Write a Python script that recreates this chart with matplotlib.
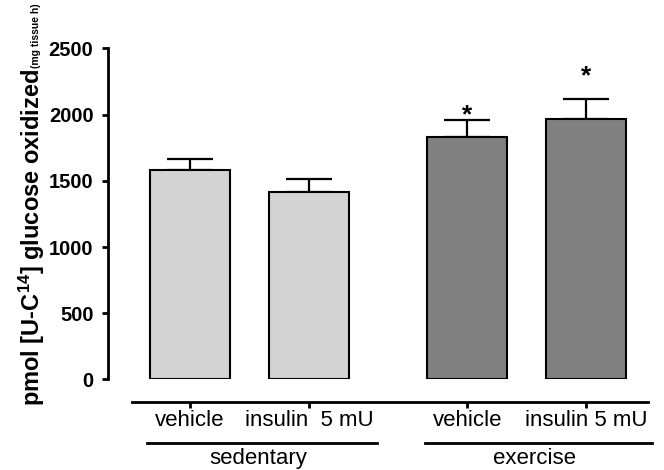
import numpy as np
import matplotlib.pyplot as plt
from matplotlib.transforms import blended_transform_factory

plt.rcParams['font.family'] = ['Liberation Sans', 'DejaVu Sans']
plt.rcParams['mathtext.fontset'] = 'custom'
plt.rcParams['mathtext.rm'] = 'Liberation Sans'
plt.rcParams['mathtext.bf'] = 'Liberation Sans:bold'
plt.rcParams['mathtext.default'] = 'bf'

# data
treatments = ['vehicle', 'insulin  5 mU', 'vehicle', 'insulin 5 mU']
groups = ['sedentary', 'exercise']
means = [1579, 1415, 1830, 1969]
sems = [88, 101, 131, 150]
significant = [False, False, True, True]

positions = np.array([0, 1, 2.33, 3.33])
colors = ['#d3d3d3', '#d3d3d3', '#808080', '#808080']
star_offsets = [0, 0, 32, 167]

fig = plt.figure(figsize=(6.64, 4.70), dpi=100)
ax = fig.add_axes([0.1627, 0.1926, 0.8238, 0.7046])

ax.bar(positions, means, width=0.672, color=colors, edgecolor='black',
       linewidth=1.5, zorder=2)
ax.errorbar(positions, means, yerr=[np.zeros(4), sems], fmt='none',
            ecolor='black', elinewidth=1.6, capsize=16.5, capthick=1.6, zorder=1)

for x, m, s, sig, off in zip(positions, means, sems, significant, star_offsets):
    if sig:
        ax.text(x, m + s + off, '*', ha='center', va='center',
                fontsize=19, fontweight='bold')

ax.set_xlim(-0.689, 3.908)
ax.set_ylim(0, 2500)
ax.set_yticks([0, 500, 1000, 1500, 2000, 2500])
ax.set_xticks(positions)
ax.set_xticklabels(treatments)
ax.tick_params(axis='y', labelsize=14.5, width=2, length=4.5, pad=6)
ax.tick_params(axis='x', labelsize=16, width=2, length=4.5, pad=1.5)
for lab in ax.get_yticklabels():
    lab.set_fontweight('bold')

ax.spines['top'].set_visible(False)
ax.spines['right'].set_visible(False)
ax.spines['left'].set_linewidth(2)
ax.spines['bottom'].set_linewidth(2)
ax.spines['bottom'].set_position(('outward', 16))
ax.spines['bottom'].set_bounds(-0.487, 3.849)

# group brackets
trans = blended_transform_factory(ax.transData, ax.transAxes)
group_spans = [(-0.361, 1.571), (1.975, 3.882)]
for (a, b), name in zip(group_spans, groups):
    ax.plot([a, b], [-0.1917, -0.1917], color='black', lw=2,
            transform=trans, clip_on=False)
    ax.text((a + b) / 2 - 0.03, -0.238, name, ha='center', va='center',
            fontsize=16, transform=trans)

fig.text(0.048, 0.496, r'pmol [U-C$^{14}$] glucose oxidized', rotation=90,
         ha='center', va='center', fontsize=17, fontweight='bold')
fig.text(0.054, 0.925, '(mg tissue h)', rotation=90, ha='center', va='center',
         fontsize=7.5, fontweight='bold')

fig.savefig('out.png', dpi=100)
